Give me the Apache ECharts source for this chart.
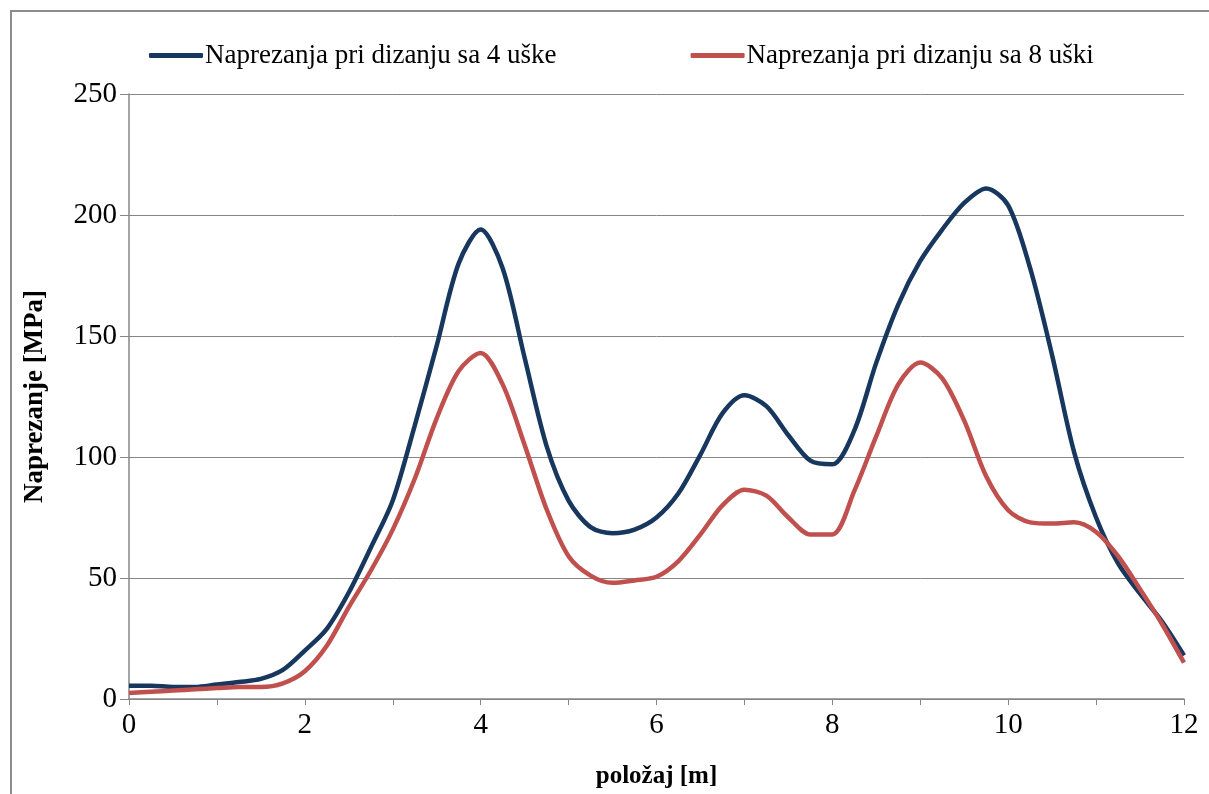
<!DOCTYPE html>
<html>
<head>
<meta charset="utf-8">
<script src="https://cdn.jsdelivr.net/npm/echarts@6/dist/echarts.min.js"></script>
<style>
html,body{margin:0;padding:0;background:#fff;}
#chart{width:1209px;height:794px;}
</style>
</head>
<body>
<div id="chart"></div>
<script>
const positions = [0,0.25,0.5,0.75,1,1.25,1.5,1.75,2,2.25,2.5,2.75,3,3.25,3.5,3.75,4,4.25,4.5,4.75,5,5.25,5.5,5.75,6,6.25,6.5,6.75,7,7.25,7.5,7.75,8,8.25,8.5,8.75,9,9.25,9.5,9.75,10,10.25,10.5,10.75,11,11.25,11.5,11.75,12];
const stress4 = [5.5,5.5,5,5,6,7,8.3,12,20,29,44,62.5,82,113,146,180,194,178,141,104.5,82,71,68.5,70,75,85,101,118,125.5,121,109,98.5,97,111,139,163,181,194,205,211,204,178,142,102,75,56,43.5,32,18];
const stress8 = [2.5,3,3.5,4,4.5,5,5,6.5,11.5,22,38,53,70,91,116,135.5,143,130,105,78.4,59,51,48,49,50.5,57,68,80,86.5,84,75,68,68,86,108.6,130,139,132.5,115,92,78,73,72.5,73,69,59,45.4,31,15];
const seriesNames = ['Naprezanja pri dizanju sa 4 uške','Naprezanja pri dizanju sa 8 uški'];
const xTitle = 'položaj [m]';
const yTitle = 'Naprezanje [MPa]';

const font = 'Liberation Serif';
const chart = echarts.init(document.getElementById('chart'));
chart.setOption({
  backgroundColor:'#fff',
  animation:false,
  textStyle:{fontFamily:font},
  graphic:[{type:'rect',shape:{x:11,y:11,width:1400,height:1000},style:{fill:'none',stroke:'#8c8c8c',lineWidth:2},z:-1}],
  legend:{
    left:144, top:37,
    itemWidth:54, itemHeight:5, itemGap:134,
    icon:'roundRect',
    textStyle:{fontFamily:font,fontSize:27,color:'#000',padding:[0,0,0,-3]},
    data:seriesNames
  },
  grid:{left:129,top:94,width:1055,height:606},
  xAxis:{
    type:'value',min:0,max:12,interval:2,
    name:xTitle,nameLocation:'middle',nameGap:65,
    nameTextStyle:{fontFamily:font,fontSize:25,fontWeight:'bold',color:'#000'},
    axisLine:{lineStyle:{color:'#868686',width:1.5}},
    axisTick:{show:true,length:6,lineStyle:{color:'#868686'}},
    minorTick:{show:true,splitNumber:2,length:6,lineStyle:{color:'#868686'}},
    axisLabel:{fontFamily:font,fontSize:29,color:'#000',margin:12},
    splitLine:{show:false}
  },
  yAxis:{
    type:'value',min:0,max:250,interval:50,
    name:yTitle,nameLocation:'middle',nameGap:80,
    nameTextStyle:{fontFamily:font,fontSize:27,fontWeight:'bold',color:'#000'},
    axisLine:{show:true,lineStyle:{color:'#868686',width:1.5}},
    axisTick:{show:true,length:9,lineStyle:{color:'#868686'}},
    axisLabel:{fontFamily:font,fontSize:29,color:'#000',margin:12},
    splitLine:{lineStyle:{color:'#868686',width:1}}
  },
  series:[
    {name:seriesNames[0],type:'line',smooth:0.3,showSymbol:false,
     data:positions.map((x,i)=>[x,stress4[i]]),
     lineStyle:{color:'#17375E',width:4.5},itemStyle:{color:'#17375E'}},
    {name:seriesNames[1],type:'line',smooth:0.3,showSymbol:false,
     data:positions.map((x,i)=>[x,stress8[i]]),
     lineStyle:{color:'#C0504D',width:4.5},itemStyle:{color:'#C0504D'}}
  ]
});
</script>
</body>
</html>
